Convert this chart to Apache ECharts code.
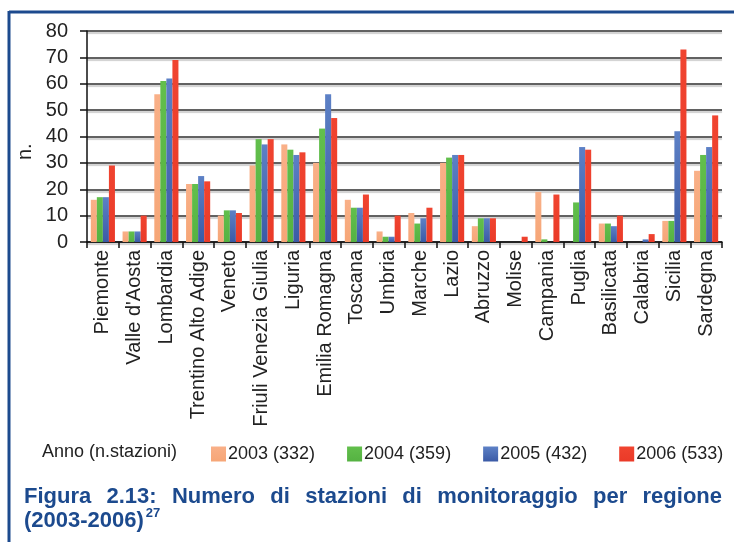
<!DOCTYPE html>
<html>
<head>
<meta charset="utf-8">
<script src="https://cdn.jsdelivr.net/npm/echarts@6/dist/echarts.min.js"></script>
<style>
  html, body { margin: 0; padding: 0; background: #fff; }
  #chart { width: 734px; height: 542px; }
</style>
</head>
<body>
<div id="chart"></div>
<script>
// regioni e numero di stazioni per anno
var regioni = ['Piemonte', "Valle d'Aosta", 'Lombardia', 'Trentino Alto Adige', 'Veneto',
  'Friuli Venezia Giulia', 'Liguria', 'Emilia Romagna', 'Toscana', 'Umbria', 'Marche',
  'Lazio', 'Abruzzo', 'Molise', 'Campania', 'Puglia', 'Basilicata', 'Calabria', 'Sicilia', 'Sardegna'];
var anni = ['2003 (332)', '2004 (359)', '2005 (432)', '2006 (533)'];
var dati2003 = [16, 4, 56, 22, 10, 29, 37, 30, 16, 4, 11, 30, 6, 0, 19, 0, 7, 0, 8, 27];
var dati2004 = [17, 4, 61, 22, 12, 39, 35, 43, 13, 2, 7, 32, 9, 0, 1, 15, 7, 0, 8, 33];
var dati2005 = [17, 4, 62, 25, 12, 37, 33, 56, 13, 2, 9, 33, 9, 0, 0, 36, 6, 1, 42, 36];
var dati2006 = [29, 10, 69, 23, 11, 39, 34, 47, 18, 10, 13, 33, 9, 2, 18, 35, 10, 3, 73, 48];
var yTicks = [0, 10, 20, 30, 40, 50, 60, 70, 80];

var myChart = echarts.init(document.getElementById('chart'));
var font = 'Liberation Sans, Arial, sans-serif';

function grad(top, bottom) {
    return new echarts.graphic.LinearGradient(0, 0, 0, 1, [
        {offset: 0, color: top}, {offset: 1, color: bottom}
    ]);
}

var colori = [
    grad('#f9b088', '#f6a677'),
    grad('#62bf4c', '#55b242'),
    grad('#5d81c6', '#3a5aa6'),
    grad('#f04430', '#ea3a28')
];
var serieDati = [dati2003, dati2004, dati2005, dati2006];

var series = [];
for (var i = 0; i < anni.length; i++) {
    series.push({
        name: anni[i],
        type: 'bar',
        data: serieDati[i],
        barGap: 0,
        barCategoryGap: '24%',
        itemStyle: {color: colori[i]}
    });
}

var blu = '#1c4a8e';
var option = {
    animation: false,
    backgroundColor: '#fff',
    textStyle: {fontFamily: font},
    grid: {left: 87, right: 12, top: 31, bottom: 300},
    legend: {
        data: anni,
        left: 206,
        top: 440,
        icon: 'rect',
        itemWidth: 15,
        itemHeight: 15,
        itemGap: 32,
        textStyle: {fontSize: 18, color: '#222', padding: [0, 0, 0, -3]}
    },
    xAxis: {
        type: 'category',
        data: regioni,
        axisLine: {lineStyle: {color: '#111', width: 1.5}},
        axisTick: {show: true, length: 6, lineStyle: {color: '#111', width: 1.5}},
        axisLabel: {rotate: 90, fontSize: 20, color: '#222', margin: 8, interval: 0}
    },
    yAxis: {
        type: 'value',
        min: 0,
        max: 80,
        interval: 10,
        axisLine: {show: true, lineStyle: {color: '#111', width: 1.5}},
        axisTick: {show: true, length: 7, lineStyle: {color: '#111', width: 1.5}},
        axisLabel: {
            fontSize: 20, color: '#222', margin: 19,
            formatter: function (v) { return yTicks.indexOf(v) >= 0 ? String(v) : ''; }
        },
        splitLine: {
            lineStyle: {
                color: '#2e2e2e', width: 1.5,
                shadowColor: 'rgba(0,0,0,0.25)', shadowOffsetY: 2, shadowBlur: 1
            }
        }
    },
    series: series,
    graphic: [
        {type: 'line', shape: {x1: 9, y1: 12, x2: 734, y2: 12}, style: {stroke: blu, lineWidth: 3}},
        {type: 'line', shape: {x1: 9, y1: 11, x2: 9, y2: 542}, style: {stroke: blu, lineWidth: 3}},
        {type: 'text', left: 42, top: 443, style: {text: 'Anno (n.stazioni)', fontSize: 18, fill: '#222', fontFamily: font}},
        {type: 'text', x: 15, y: 160, rotation: Math.PI / 2, style: {text: 'n.', fontSize: 20, fill: '#222', fontFamily: font}}
    ]
};

// didascalia giustificata tra x=24 e x=722
var didascalia = ['Figura', '2.13:', 'Numero', 'di', 'stazioni', 'di', 'monitoraggio', 'per', 'regione'];
var fontDid = 'bold 22px Liberation Sans Narrow, Liberation Sans, Arial, sans-serif';
var ctx = document.createElement('canvas').getContext('2d');
ctx.font = fontDid;
var larghezze = didascalia.map(function (w) { return ctx.measureText(w).width; });
var totale = larghezze.reduce(function (a, b) { return a + b; }, 0);
var spazio = (722 - 24 - totale) / (didascalia.length - 1);
var xCur = 24;
for (var k = 0; k < didascalia.length; k++) {
    option.graphic.push({type: 'text', x: xCur, y: 486,
        style: {text: didascalia[k], font: fontDid, fill: blu}});
    xCur += larghezze[k] + spazio;
}
option.graphic.push({type: 'text', x: 24, y: 510, style: {text: '(2003-2006)', font: fontDid, fill: blu}});
var wAnni = ctx.measureText('(2003-2006)').width;
option.graphic.push({type: 'text', x: 24 + wAnni + 2, y: 507,
    style: {text: '27', font: 'bold 13px Liberation Sans Narrow, Liberation Sans, Arial, sans-serif', fill: blu}});

myChart.setOption(option);
</script>
</body>
</html>
